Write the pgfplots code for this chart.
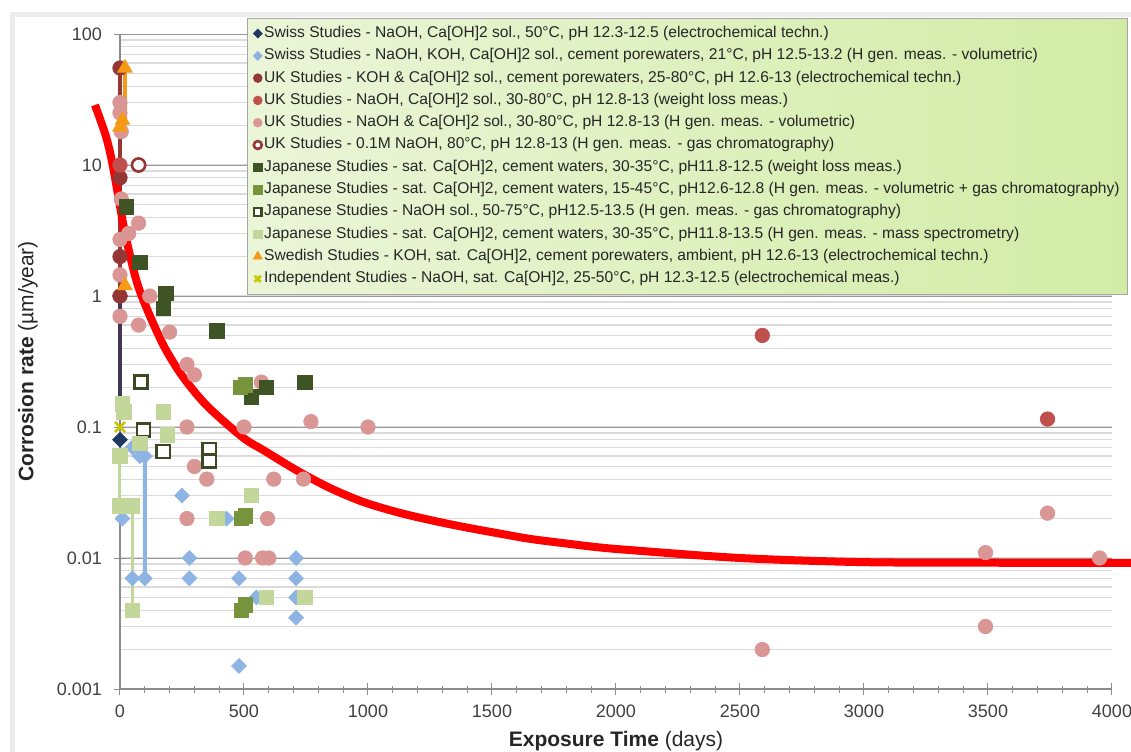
\documentclass[border=0pt]{standalone}
\usepackage{fontspec}
\setmainfont{Liberation Sans}
\usepackage{pgfplots}
\pgfplotsset{compat=1.18}

\definecolor{swissA}{HTML}{1F3864}
\definecolor{swissB}{HTML}{8EB4E3}
\definecolor{ukA}{HTML}{953735}
\definecolor{ukB}{HTML}{C0504D}
\definecolor{ukC}{HTML}{DA9694}
\definecolor{jpA}{HTML}{3F5424}
\definecolor{jpB}{HTML}{77933C}
\definecolor{jpC}{HTML}{3B4A23}
\definecolor{jpD}{HTML}{C4D79B}
\definecolor{swe}{HTML}{F59A17}
\definecolor{ind}{HTML}{C8C800}
\definecolor{legA}{HTML}{EBF5D8}
\definecolor{legB}{HTML}{D2ECA6}

\begin{document}
\begin{tikzpicture}
\path[use as bounding box] (-60pt,-31pt) rectangle (505.5pt,344.5pt);
\draw[gray!15, line width=2.5pt] (-53.5pt,337pt) rectangle (515pt,-40pt);
\begin{axis}[
  at={(0,0)}, anchor=south west,
  scale only axis, width=496pt, height=327.5pt,
  ymode=log, xmin=0, xmax=4000, ymin=0.001, ymax=100,
  clip=false,
  axis x line*=bottom, axis y line*=left,
  axis line style={black!45, line width=0.6pt},
  xtick={0,500,...,4000},
  xticklabels={0,500,1000,1500,2000,2500,3000,3500,4000},
  minor x tick num=4,
  ytick={0.001,0.01,0.1,1,10,100},
  yticklabels={0.001,0.01,0.1,1,10,100},
  tick align=center,
  major tick length=6pt, minor tick length=3.5pt,
  tick style={black!45, line width=0.5pt},
  minor y tick style={draw=none},
  ymajorgrids, yminorgrids,
  major grid style={black!40, line width=0.5pt},
  minor grid style={black!14, line width=0.6pt},
  /pgf/number format/assume math mode=true,
  ticklabel style={font=\fontsize{9}{10}\selectfont, text=black!75},
  xticklabel style={anchor=center, yshift=-8pt},
  yticklabel style={anchor=east, xshift=-2.5pt},
  xlabel={\textbf{Exposure Time} (days)},
  ylabel={\textbf{Corrosion rate} (µm/year)},
  label style={font=\fontsize{10.5}{12}\selectfont, text=black!85},
  xlabel style={at={(axis description cs:0.5,-0.0794)}, anchor=center},
  ylabel style={at={(axis description cs:-0.0927,0.5)}, anchor=center, rotate=0},
  legend cell align=left,
  legend style={at={(0.128,1.0244)}, anchor=north west,
    draw=black!35, left color=legA, right color=legB,
    font=\fontsize{7.8}{9}\selectfont, text=black!85,
    inner sep=3pt, row sep=2.05pt,
    nodes={inner sep=1pt, text height=5.5pt, text depth=1.6pt}},
  legend image code/.code={\draw[#1,/tikz/every mark/.append style={scale=0.6}] plot coordinates {(0.1cm,0cm)};},
]
% connecting lines (forget plot)
\addplot[ukA, line width=2pt, forget plot] coordinates {(0,55) (0,1)};
\addplot[swissA!70!ukA, line width=2pt, forget plot] coordinates {(0,1) (0,0.17)};
\addplot[swe, line width=2pt, forget plot] coordinates {(20,55) (20,20)};
\addplot[swissB, line width=2pt, forget plot] coordinates {(50,0.07) (100,0.06) (100,0.007)};
\addplot[jpD, line width=1.5pt, forget plot] coordinates {(0,0.06) (0,0.025) (50,0.025) (50,0.004)};

% 1 Swiss A
\addplot[only marks, mark=square*, mark size=2.6pt, mark options={rotate=45, draw=swissA, fill=swissA}]
  coordinates {(0,1) (0,0.08)};
\addlegendentry{Swiss Studies - NaOH, Ca[OH]2 sol., 50°C, pH 12.3-12.5 (electrochemical techn.)}
% 2 Swiss B
\addplot[only marks, mark=square*, mark size=2.6pt, mark options={rotate=45, draw=swissB, fill=swissB}]
  coordinates {(10,0.02) (50,0.007) (100,0.007) (80,0.06) (100,0.06) (50,0.07) (250,0.03)
  (280,0.01) (280,0.007) (480,0.007) (480,0.0015) (710,0.01) (710,0.007) (710,0.005)
  (710,0.0035) (550,0.005) (430,0.02)};
\addlegendentry{Swiss Studies - NaOH, KOH, Ca[OH]2 sol., cement porewaters, 21°C, pH 12.5-13.2 (H gen. meas. - volumetric)}
% 3 UK A
\addplot[only marks, mark=*, mark size=3.6pt, mark options={draw=ukA, fill=ukA}]
  coordinates {(0,55) (0,8) (0,2) (0,1)};
\addlegendentry{UK Studies - KOH \& Ca[OH]2 sol., cement porewaters, 25-80°C, pH 12.6-13 (electrochemical techn.)}
% 4 UK B
\addplot[only marks, mark=*, mark size=3.6pt, mark options={draw=ukB, fill=ukB}]
  coordinates {(0,10) (2590,0.5) (3740,0.115)};
\addlegendentry{UK Studies - NaOH, Ca[OH]2 sol., 30-80°C, pH 12.8-13 (weight loss meas.)}
% 5 UK C
\addplot[only marks, mark=*, mark size=3.6pt, mark options={draw=ukC, fill=ukC}]
  coordinates {(0,30) (0,25) (5,18) (5,5.5) (75,3.6) (35,3) (0,2.7) (0,1.45) (120,1.0)
  (0,0.7) (75,0.6) (200,0.53) (270,0.3) (300,0.25) (570,0.22) (270,0.1) (500,0.1)
  (300,0.05) (350,0.04) (620,0.04) (740,0.04) (770,0.11) (1000,0.1) (270,0.02)
  (595,0.02) (505,0.01) (575,0.01) (600,0.01) (3740,0.022) (3490,0.011) (3490,0.003)
  (2590,0.002) (3950,0.01)};
\addlegendentry{UK Studies - NaOH \& Ca[OH]2 sol., 30-80°C, pH 12.8-13 (H gen. meas. - volumetric)}
% 6 UK open
\addplot[only marks, mark=*, mark size=3.3pt, mark options={draw=ukA, fill=white, line width=1.3pt}]
  coordinates {(75,10)};
\addlegendentry{UK Studies - 0.1M NaOH, 80°C, pH 12.8-13 (H gen. meas. - gas chromatography)}
% 7 JP A
\addplot[only marks, mark=square*, mark size=3.6pt, mark options={draw=jpA, fill=jpA}]
  coordinates {(25,4.8) (80,1.8) (185,1.05) (175,0.8) (390,0.54) (745,0.22) (530,0.17) (590,0.2)};
\addlegendentry{Japanese Studies - sat. Ca[OH]2, cement waters, 30-35°C, pH11.8-12.5 (weight loss meas.)}
% 8 JP B
\addplot[only marks, mark=square*, mark size=3.6pt, mark options={draw=jpB, fill=jpB}]
  coordinates {(505,0.21) (485,0.2) (505,0.021) (490,0.02) (505,0.0044) (490,0.004)};
\addlegendentry{Japanese Studies - sat. Ca[OH]2, cement waters, 15-45°C, pH12.6-12.8 (H gen. meas. - volumetric + gas chromatography)}
% 9 JP C open
\addplot[only marks, mark=square*, mark size=3.3pt, mark options={draw=jpC, fill=white, line width=1.3pt}]
  coordinates {(85,0.22) (95,0.095) (175,0.065) (360,0.067) (360,0.055)};
\addlegendentry{Japanese Studies - NaOH sol., 50-75°C, pH12.5-13.5 (H gen. meas. - gas chromatography)}
% 10 JP D
\addplot[only marks, mark=square*, mark size=3.6pt, mark options={draw=jpD, fill=jpD}]
  coordinates {(10,0.15) (15,0.13) (175,0.13) (190,0.087) (80,0.075) (0,0.06) (0,0.025)
  (50,0.025) (50,0.004) (530,0.03) (390,0.02) (590,0.005) (745,0.005)};
\addlegendentry{Japanese Studies - sat. Ca[OH]2, cement waters, 30-35°C, pH11.8-13.5 (H gen. meas. - mass spectrometry)}
% 11 Swedish
\addplot[only marks, mark=triangle*, mark size=4.2pt, mark options={draw=swe, fill=swe}]
  coordinates {(20,55) (10,22) (0,19.5) (20,1.2)};
\addlegendentry{Swedish Studies - KOH, sat. Ca[OH]2, cement porewaters, ambient, pH 12.6-13 (electrochemical techn.)}
% 12 Independent
\addplot[only marks, mark=x, mark size=3.6pt, mark options={draw=ind, line width=1.4pt}]
  coordinates {(0,0.1)};
\addlegendentry{Independent Studies - NaOH, sat. Ca[OH]2, 25-50°C, pH 12.3-12.5 (electrochemical meas.)}

% red trend curve
\addplot[red, line width=4pt, smooth, forget plot] coordinates {
  (-101,28.7) (-56,16.4) (-28,9.66) (20,3.03) (69,1.26) (121,0.703) (181,0.401)
  (254,0.241) (351,0.145) (496,0.083) (577,0.0668) (714,0.0465) (847,0.0342)
  (980,0.0268) (1117,0.0224) (1250,0.0195) (1383,0.0173) (1520,0.0155) (1653,0.014)
  (1786,0.013) (1923,0.0121) (2056,0.0115) (2500,0.0100) (2996,0.0093) (3548,0.0092)
  (4077,0.0092)};
\end{axis}
\end{tikzpicture}
\end{document}
